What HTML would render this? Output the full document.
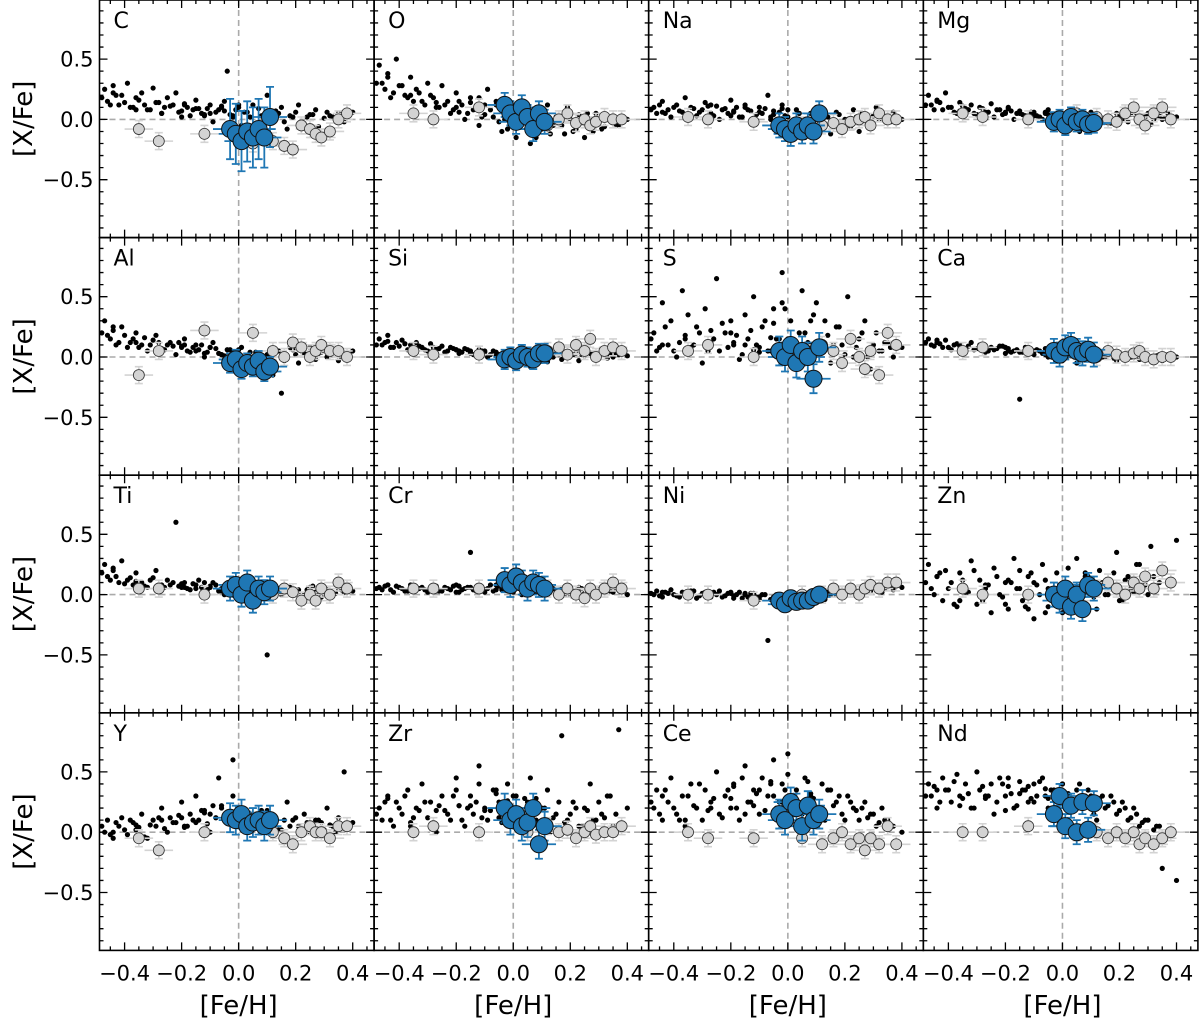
<!DOCTYPE html>
<html><head><meta charset="utf-8"><style>
html,body{margin:0;padding:0;background:#fff;}
svg text{font-family:"DejaVu Sans","Liberation Sans",sans-serif;}
</style></head><body>
<svg id="chart" width="1200" height="1021" viewBox="0 0 1200 1021" xmlns="http://www.w3.org/2000/svg"></svg>
<script>
const elements = ["C","O","Na","Mg","Al","Si","S","Ca","Ti","Cr","Ni","Zn","Y","Zr","Ce","Nd"];
const xTicks = [-0.4,-0.2,0.0,0.2,0.4];
const xTickLabels = ["\u22120.4","\u22120.2","0.0","0.2","0.4"];
const yTicks = [0.5,0.0,-0.5];
const yTickLabels = ["0.5","0.0","\u22120.5"];
const fieldFeh = [-0.47,-0.46,-0.44,-0.42,-0.41,-0.39,-0.37,-0.36,-0.34,-0.32,-0.30,-0.29,-0.27,-0.25,-0.24,-0.22,-0.20,-0.19,-0.17,-0.15,-0.14,-0.12,-0.10,-0.09,-0.07,-0.05,-0.04,-0.02,0.00,0.01,0.03,0.05,0.06,0.08,0.10,0.12,0.13,0.15,0.17,0.19,0.21,0.23,0.25,0.27,0.29,0.31,0.33,0.35,0.37,0.40];
const fieldC = [0.25,0.15,0.28,0.12,0.20,0.30,0.10,0.18,0.22,0.08,0.26,0.14,0.05,0.18,0.11,0.22,0.07,0.13,0.03,0.16,0.09,0.04,0.12,-0.02,0.08,0.15,0.40,0.02,0.10,-0.05,0.06,0.12,-0.10,0.03,0.20,-0.15,0.07,0.10,-0.08,0.02,0.12,-0.05,0.04,0.08,-0.12,0.06,0.02,0.05,-0.02,0.06];
const fieldO = [0.45,0.30,0.38,0.22,0.50,0.28,0.18,0.35,0.25,0.15,0.30,0.20,0.10,0.28,0.12,0.05,0.22,0.15,0.00,0.18,0.08,-0.05,0.12,0.25,0.02,0.10,-0.10,0.15,0.05,-0.15,0.00,0.08,-0.20,0.05,-0.08,0.12,-0.12,0.02,-0.05,0.10,-0.10,0.04,-0.15,0.00,0.05,-0.08,0.02,0.03,-0.05,0.00];
const fieldNa = [0.10,0.05,0.15,0.08,0.02,0.12,0.06,0.18,0.10,0.03,0.08,0.14,0.05,0.11,0.00,0.09,0.16,0.06,0.02,0.12,0.08,-0.02,0.10,0.05,0.20,0.07,-0.05,0.12,0.02,-0.10,0.08,0.00,-0.15,0.05,0.10,-0.08,0.02,-0.12,0.06,-0.05,0.00,0.08,-0.10,0.04,-0.05,0.10,0.02,-0.02,0.06,0.00];
const fieldMg = [0.20,0.12,0.15,0.08,0.22,0.10,0.05,0.14,0.09,0.12,0.04,0.10,0.06,0.13,0.02,0.08,0.05,0.10,0.00,0.07,0.04,-0.02,0.06,0.03,0.00,0.08,-0.05,0.04,0.02,-0.08,0.05,0.00,-0.10,0.03,0.06,-0.05,0.02,0.00,-0.03,0.05,0.01,-0.02,0.04,0.00,0.02,-0.04,0.03,0.00,0.05,0.02];
const fieldAl = [0.30,0.18,0.22,0.12,0.25,0.08,0.15,0.20,0.10,0.05,0.14,0.18,0.06,0.10,0.12,0.02,0.08,0.15,0.04,0.10,0.06,0.00,0.08,0.12,0.03,-0.02,0.06,0.02,-0.05,0.08,0.00,-0.10,0.04,-0.08,0.02,-0.15,0.05,-0.30,0.00,0.06,-0.05,0.03,0.08,-0.02,0.04,0.00,0.06,-0.03,0.02,0.05];
const fieldSi = [0.15,0.10,0.18,0.08,0.12,0.14,0.06,0.10,0.12,0.08,0.05,0.11,0.07,0.09,0.04,0.08,0.06,0.03,0.07,0.05,0.02,0.06,0.04,0.00,0.05,0.02,-0.02,0.04,0.01,-0.05,0.03,0.00,-0.08,0.02,0.04,-0.04,0.01,0.03,-0.02,0.00,0.02,-0.03,0.01,0.03,0.00,0.02,-0.01,0.00,0.02,0.01];
const fieldS = [0.20,0.05,0.45,0.10,0.30,0.00,0.55,0.15,0.08,0.25,-0.05,0.40,0.12,0.65,0.05,0.20,0.30,0.10,-0.02,0.35,0.15,0.50,0.08,0.25,0.05,0.40,0.15,0.70,0.10,0.30,0.00,0.55,0.20,0.10,0.45,0.05,0.30,-0.05,0.25,0.10,0.50,0.00,0.15,0.30,-0.10,0.20,0.05,0.12,0.00,0.08];
const fieldCa = [0.15,0.10,0.12,0.08,0.14,0.06,0.11,0.09,0.05,0.12,0.07,0.10,0.04,0.08,0.06,0.09,0.03,0.07,0.05,-0.35,0.04,0.08,0.02,0.06,0.03,0.00,0.05,0.02,-0.03,0.04,0.01,-0.05,0.03,0.00,0.05,-0.02,0.02,0.00,0.04,-0.03,0.01,0.03,0.00,-0.02,0.02,0.00,0.01,-0.03,0.02,0.00];
const fieldTi = [0.25,0.15,0.20,0.10,0.28,0.12,0.08,0.18,0.10,0.06,0.14,0.20,0.05,0.12,0.08,0.60,0.06,0.10,0.04,0.08,0.12,0.02,0.06,0.10,0.03,0.00,0.08,0.05,-0.02,0.06,0.02,-0.05,0.04,0.10,-0.50,0.03,0.06,0.00,0.05,0.02,0.04,0.00,0.06,0.02,-0.02,0.04,0.00,0.05,0.02,0.03];
const fieldCr = [0.06,0.04,0.08,0.02,0.07,0.05,0.03,0.08,0.04,0.06,0.02,0.05,0.07,0.03,0.06,0.04,0.08,0.02,0.05,0.35,0.04,0.06,0.02,0.05,0.03,0.07,0.04,0.10,0.02,0.06,0.00,0.08,0.04,0.02,0.06,0.00,0.04,0.02,0.05,0.00,0.03,0.06,0.01,0.04,0.00,0.03,0.05,0.02,0.04,0.00];
const fieldNi = [0.00,0.03,-0.02,0.01,0.04,-0.01,0.02,0.00,0.03,-0.03,0.01,0.02,-0.02,0.00,0.03,-0.01,0.01,-0.03,0.02,0.00,-0.02,0.01,-0.04,0.00,-0.38,-0.02,0.00,-0.05,-0.02,0.01,-0.06,-0.03,0.00,-0.05,-0.02,0.02,-0.04,0.00,0.03,-0.02,0.05,0.02,0.00,0.06,0.03,0.05,0.02,0.08,0.04,0.06];
const fieldZn = [0.25,0.05,0.15,-0.05,0.20,0.10,-0.10,0.18,0.02,0.28,-0.08,0.12,0.05,-0.15,0.22,0.00,0.10,-0.12,0.30,0.05,-0.05,0.15,-0.20,0.08,0.25,-0.10,0.02,0.18,-0.15,0.10,0.00,0.30,-0.08,0.15,0.05,-0.12,0.20,0.00,0.10,0.35,-0.05,0.15,0.02,0.25,0.08,0.40,0.05,0.20,0.10,0.45];
const fieldY = [0.00,0.10,-0.05,0.05,0.12,-0.02,0.08,0.02,0.15,-0.05,0.10,0.05,0.20,0.00,0.12,0.08,0.25,0.05,0.15,0.30,0.10,0.18,0.00,0.22,0.45,0.10,0.15,0.60,0.08,0.20,0.05,0.15,0.10,0.00,0.18,0.08,0.12,0.02,0.25,0.10,0.05,0.15,0.00,0.10,0.08,0.20,0.05,0.12,0.50,0.08];
const fieldZr = [0.20,0.10,0.30,0.05,0.25,0.15,0.35,0.08,0.20,0.40,0.12,0.25,0.00,0.30,0.18,0.10,0.45,0.22,0.05,0.30,0.15,0.55,0.20,0.10,0.35,0.25,0.08,0.40,0.15,0.30,0.05,0.25,0.45,0.10,0.20,0.35,0.00,0.15,0.80,0.10,0.25,0.05,0.20,0.40,0.10,0.15,0.30,0.05,0.85,0.20];
const fieldCe = [0.20,0.35,0.10,0.25,0.45,0.15,0.30,0.05,0.40,0.20,0.10,0.35,0.25,0.50,0.15,0.30,0.20,0.40,0.10,0.55,0.25,0.35,0.15,0.45,0.30,0.60,0.20,0.40,0.65,0.25,0.35,0.15,0.45,0.30,0.20,0.40,0.10,0.35,0.25,0.15,0.30,0.20,0.10,0.25,0.15,0.05,0.20,0.10,0.05,0.00];
const fieldNd = [0.40,0.30,0.20,0.45,0.35,0.25,0.48,0.30,0.40,0.20,0.50,0.35,0.28,0.40,0.15,0.45,0.30,0.38,0.20,0.42,0.35,0.25,0.40,0.30,0.45,0.20,0.35,0.28,0.40,0.30,0.22,0.35,0.40,0.25,0.30,0.10,0.28,0.20,0.30,0.15,0.25,0.10,0.20,0.05,0.10,-0.10,0.05,-0.30,0.00,-0.40];
const fieldY_all = [fieldC,fieldO,fieldNa,fieldMg,fieldAl,fieldSi,fieldS,fieldCa,fieldTi,fieldCr,fieldNi,fieldZn,fieldY,fieldZr,fieldCe,fieldNd];
const fieldFeh2 = [-0.48,-0.45,-0.43,-0.40,-0.38,-0.35,-0.33,-0.31,-0.28,-0.26,-0.23,-0.21,-0.18,-0.16,-0.13,-0.11,-0.08,-0.06,-0.03,-0.01,0.02,0.04,0.07,0.09,0.11,0.14,0.16,0.18,0.20,0.22,0.24,0.26,0.28,0.30,0.32,0.34,0.36,-0.44,-0.36,-0.27,-0.19,-0.12,-0.05,0.00,-0.20,-0.15,-0.10,-0.06,-0.02,0.08];
const field2Vals = [
 [0.18,0.12,0.20,0.14,0.10,0.16,0.12,0.08,0.14,0.10,0.12,0.06,0.10,0.08,0.05,0.09,0.06,0.10,0.04,0.08,0.06,0.02,0.09,0.04,0.00,0.05,-0.02,0.03,0.06,-0.04,0.02,0.04,-0.06,0.01,0.03,0.00,0.04,0.22,0.08,0.05,0.12,0.03,0.07,0.12,0.02,0.09,0.05,0.11,0.03,-0.08],
 [0.30,0.25,0.18,0.28,0.20,0.15,0.22,0.12,0.18,0.10,0.15,0.08,0.12,0.05,0.10,0.02,0.08,0.12,0.00,0.05,-0.05,0.10,0.00,-0.10,0.03,-0.05,0.02,-0.12,0.00,-0.08,-0.03,0.05,-0.10,-0.02,-0.06,0.00,-0.04,0.35,0.20,0.14,0.06,0.18,-0.02,0.08,0.10,0.14,0.04,0.15,-0.08,-0.15],
 [0.08,0.12,0.05,0.10,0.07,0.04,0.09,0.06,0.11,0.03,0.08,0.05,0.10,0.02,0.07,0.04,0.09,0.00,0.06,0.03,-0.02,0.05,0.00,0.04,-0.05,0.02,-0.03,0.04,0.00,-0.06,0.02,0.05,-0.02,0.03,0.00,0.02,-0.02,0.06,0.02,0.12,0.07,0.01,0.04,0.08,0.03,0.10,0.06,0.02,0.09,-0.08],
 [0.12,0.08,0.14,0.10,0.06,0.11,0.08,0.05,0.09,0.06,0.08,0.04,0.07,0.05,0.03,0.06,0.02,0.05,0.01,0.04,0.00,0.03,-0.02,0.02,-0.03,0.01,0.03,-0.02,0.02,0.00,0.04,-0.01,0.02,0.05,0.00,0.03,0.01,0.16,0.07,0.03,0.09,0.02,0.04,0.00,0.06,0.05,0.03,0.06,0.01,-0.06],
 [0.20,0.15,0.10,0.18,0.12,0.08,0.16,0.10,0.12,0.06,0.09,0.12,0.05,0.08,0.10,0.04,0.07,0.02,0.06,0.03,-0.02,0.04,0.00,-0.05,0.02,0.05,-0.03,0.08,0.02,0.05,0.00,0.06,0.03,0.08,0.02,0.05,0.00,0.25,0.12,0.07,0.10,0.03,0.01,0.06,0.09,0.05,0.08,0.02,0.04,-0.12],
 [0.10,0.12,0.08,0.09,0.11,0.07,0.09,0.06,0.08,0.07,0.05,0.07,0.04,0.06,0.03,0.05,0.02,0.04,0.01,0.03,0.00,0.02,-0.01,0.01,0.03,0.00,0.02,0.04,0.01,0.03,0.02,0.05,0.03,0.01,0.04,0.02,0.03,0.13,0.06,0.07,0.05,0.04,0.02,0.03,0.06,0.03,0.05,0.01,0.04,-0.03],
 [0.15,0.08,0.25,0.05,0.12,0.35,0.10,0.20,0.05,0.15,0.28,0.08,0.18,0.02,0.22,0.10,0.30,0.05,0.15,0.40,0.08,0.20,0.12,0.35,0.05,0.18,0.10,0.25,0.02,0.15,0.08,0.20,0.00,0.10,0.05,0.12,0.08,0.10,0.18,0.22,0.12,0.06,0.28,0.15,0.20,0.10,0.04,0.16,0.45,0.30],
 [0.12,0.09,0.11,0.08,0.10,0.07,0.09,0.06,0.08,0.05,0.07,0.09,0.04,0.06,0.08,0.03,0.05,0.02,0.04,0.06,0.01,0.03,0.00,0.02,0.04,0.00,0.02,-0.01,0.03,0.01,0.00,0.02,0.04,0.01,0.00,0.02,-0.01,0.14,0.10,0.07,0.05,0.06,0.03,0.02,0.08,0.04,0.05,0.07,0.03,0.00],
 [0.18,0.12,0.15,0.09,0.14,0.10,0.07,0.12,0.08,0.06,0.10,0.07,0.05,0.09,0.06,0.04,0.08,0.05,0.03,0.07,0.02,0.05,0.08,0.03,0.00,0.05,0.02,0.06,0.03,0.00,0.04,0.07,0.02,0.05,0.03,0.01,0.04,0.22,0.11,0.08,0.06,0.10,0.04,0.06,0.09,0.05,0.07,0.03,0.08,-0.02],
 [0.05,0.07,0.04,0.06,0.03,0.07,0.05,0.04,0.06,0.03,0.05,0.07,0.04,0.06,0.03,0.05,0.08,0.04,0.06,0.09,0.05,0.03,0.07,0.04,0.02,0.05,0.03,0.01,0.04,0.02,0.05,0.03,0.01,0.04,0.02,0.03,0.05,0.08,0.06,0.03,0.07,0.04,0.10,0.05,0.02,0.06,0.04,0.08,0.11,0.06],
 [0.01,-0.01,0.02,0.00,-0.02,0.01,0.03,-0.01,0.00,0.02,-0.02,0.01,0.00,-0.03,0.01,-0.02,0.00,-0.04,-0.01,-0.03,-0.05,-0.02,0.00,-0.04,-0.01,0.02,0.00,0.03,0.01,0.04,0.02,0.05,0.03,0.06,0.04,0.05,0.07,0.02,0.00,0.01,-0.01,0.00,-0.03,-0.05,0.02,0.01,-0.02,-0.04,-0.06,-0.07],
 [0.10,0.00,0.18,0.05,-0.08,0.12,0.02,0.20,-0.05,0.08,0.15,-0.02,0.10,0.05,-0.10,0.18,0.00,0.12,-0.05,0.08,0.22,-0.08,0.05,0.15,-0.02,0.10,0.00,0.18,-0.05,0.12,0.05,0.25,0.08,0.00,0.15,0.10,0.20,0.15,-0.05,0.08,0.12,-0.12,0.05,0.02,-0.08,0.20,0.10,-0.15,0.03,0.18],
 [0.05,-0.02,0.08,0.02,0.10,0.04,-0.04,0.06,0.12,0.03,0.08,0.14,0.05,0.10,0.18,0.07,0.12,0.20,0.08,0.15,0.10,0.05,0.12,0.08,0.15,0.02,0.10,0.05,0.12,0.00,0.08,0.04,0.10,0.02,0.06,0.00,0.05,0.00,0.06,0.10,0.04,0.16,0.12,0.20,0.12,0.08,0.15,0.22,0.30,0.18],
 [0.15,0.25,0.10,0.20,0.30,0.12,0.18,0.25,0.08,0.22,0.15,0.30,0.10,0.20,0.25,0.12,0.18,0.35,0.15,0.22,0.10,0.28,0.15,0.05,0.20,0.12,0.25,0.08,0.15,0.20,0.05,0.18,0.10,0.25,0.12,0.30,0.15,0.28,0.05,0.18,0.22,0.40,0.12,0.30,0.35,0.22,0.18,0.32,0.26,0.28],
 [0.25,0.15,0.35,0.20,0.10,0.30,0.22,0.40,0.18,0.28,0.12,0.35,0.20,0.45,0.25,0.32,0.18,0.40,0.25,0.35,0.30,0.20,0.42,0.28,0.15,0.35,0.22,0.30,0.10,0.25,0.18,0.20,0.12,0.15,0.08,0.10,0.05,0.30,0.10,0.20,0.38,0.22,0.30,0.48,0.28,0.15,0.35,0.42,0.25,0.32],
 [0.30,0.38,0.25,0.35,0.42,0.28,0.32,0.20,0.38,0.30,0.25,0.40,0.32,0.22,0.35,0.28,0.42,0.30,0.35,0.25,0.32,0.20,0.28,0.35,0.15,0.30,0.22,0.25,0.18,0.20,0.12,0.15,0.08,0.10,0.02,0.05,-0.05,0.35,0.22,0.30,0.45,0.38,0.28,0.40,0.18,0.32,0.25,0.36,0.30,0.30]
];
const grayFeh = [-0.35,-0.28,-0.12,0.05,0.12,0.16,0.19,0.22,0.25,0.27,0.29,0.32,0.35,0.38];
const grayVals = [
 [-0.08,-0.18,-0.12,-0.20,-0.18,-0.22,-0.25,-0.05,-0.08,-0.12,-0.15,-0.10,0.00,0.05],
 [0.05,0.00,0.10,0.05,-0.05,0.00,0.05,-0.03,0.00,-0.05,-0.02,0.02,0.00,0.00],
 [0.02,0.00,-0.02,-0.05,-0.05,-0.03,-0.08,-0.02,0.00,0.02,-0.05,0.05,0.00,0.00],
 [0.05,0.02,0.00,0.05,0.02,0.00,-0.02,0.05,0.10,0.00,-0.05,0.05,0.10,0.00],
 [-0.15,0.05,0.22,0.20,0.05,0.00,0.12,0.08,0.00,0.05,0.10,0.05,0.05,0.00],
 [0.05,0.02,0.02,0.00,0.05,0.08,0.02,0.10,0.05,0.15,0.00,0.05,0.08,0.05],
 [0.05,0.10,0.00,0.05,0.10,0.05,-0.05,0.15,0.00,-0.10,0.05,-0.15,0.20,0.10],
 [0.05,0.08,0.05,0.05,0.00,0.05,0.02,0.00,0.03,0.05,0.00,-0.02,0.00,0.00],
 [0.05,0.05,0.00,0.05,0.00,0.05,0.02,-0.05,0.00,-0.05,0.05,0.00,0.10,0.05],
 [0.05,0.05,0.05,0.05,0.05,0.00,0.05,0.00,-0.03,0.05,0.00,0.05,0.10,0.05],
 [0.00,0.00,-0.05,0.00,0.00,0.05,0.00,0.05,0.00,0.05,0.08,0.05,0.10,0.10],
 [0.05,0.00,0.00,-0.05,0.05,0.10,0.05,0.00,0.10,0.05,0.15,0.05,0.20,0.10],
 [-0.05,-0.15,0.00,0.10,0.00,-0.05,-0.10,0.00,0.05,0.00,0.00,-0.05,0.05,0.05],
 [0.00,0.05,0.00,0.00,0.05,0.00,0.02,-0.05,0.00,0.05,-0.02,0.00,0.00,0.05],
 [0.00,-0.05,-0.05,-0.05,-0.10,-0.05,0.00,-0.10,-0.05,-0.15,-0.05,-0.10,0.05,-0.10],
 [0.00,0.00,0.05,0.00,0.00,-0.05,0.00,-0.05,0.00,-0.10,-0.05,-0.10,-0.05,0.00]
];
const clusterFeh = [-0.03,-0.01,0.01,0.03,0.05,0.07,0.09,0.11];
const clusterVals = [
 [-0.08,-0.12,-0.18,-0.10,-0.15,-0.08,-0.15,0.02],
 [0.12,0.05,-0.02,0.10,0.02,-0.08,0.05,-0.02],
 [-0.05,-0.08,-0.12,-0.05,-0.10,-0.05,-0.10,0.05],
 [-0.02,0.00,-0.05,0.02,-0.02,0.00,-0.04,-0.03],
 [-0.05,-0.02,-0.10,-0.05,-0.08,-0.03,-0.12,-0.08],
 [-0.02,0.00,-0.03,0.02,0.00,-0.02,0.03,0.03],
 [0.05,0.00,0.10,-0.05,0.05,0.00,-0.18,0.08],
 [0.05,0.02,0.08,0.10,0.05,0.03,0.06,0.02],
 [0.05,0.08,0.00,0.10,-0.05,0.05,0.02,0.05],
 [0.12,0.08,0.15,0.10,0.05,0.10,0.08,0.05],
 [-0.05,-0.08,-0.03,-0.06,-0.05,-0.05,-0.02,0.00],
 [0.00,-0.05,0.05,-0.10,0.00,-0.12,0.08,0.05],
 [0.12,0.10,0.15,0.05,0.08,0.10,0.05,0.10],
 [0.20,0.10,0.15,0.05,0.08,0.20,-0.10,0.05],
 [0.15,0.10,0.25,0.20,0.05,0.22,0.10,0.15],
 [0.15,0.30,0.05,0.22,0.00,0.25,0.02,0.24]
];
const clusterYErr = [0.25,0.1,0.1,0.08,0.08,0.08,0.12,0.1,0.1,0.1,0.06,0.1,0.12,0.12,0.12,0.1];

const NS="http://www.w3.org/2000/svg";
const svg=document.getElementById('chart');
const X0=99.5, PW=274.6, PH=237.6;
const XMIN=-0.488, XMAX=0.475, YMIN=-0.98, YMAX=0.99;
function mk(tag,attrs,parent){const e=document.createElementNS(NS,tag);for(const k in attrs)e.setAttribute(k,attrs[k]);(parent||svg).appendChild(e);return e;}
function sx(c,v){return X0+c*PW+(v-XMIN)/(XMAX-XMIN)*PW;}
function sy(r,v){return r*PH+(YMAX-v)/(YMAX-YMIN)*PH;}

for(let i=0;i<16;i++){
  const c=i%4, r=Math.floor(i/4);
  const g=mk('g',{});
  
  
  const px=X0+c*PW, py=r*PH;
  const clip=mk('clipPath',{id:'cp'+i},g);
  mk('rect',{x:px,y:py,width:PW,height:PH},clip);
  const inner=mk('g',{'clip-path':'url(#cp'+i+')'},g);
  const vl=mk('line',{x1:sx(c,0),x2:sx(c,0),y1:py,y2:py+PH,stroke:'#aaa','stroke-width':1.6,'stroke-dasharray':'6,4'},inner);
  
  
  const hl=mk('line',{x1:px,x2:px+PW,y1:sy(r,0),y2:sy(r,0),stroke:'#aaa','stroke-width':1.6,'stroke-dasharray':'6,4'},inner);
  
  
  // field stars (two samples)
  const fv=fieldY_all[i];
  for(let k=0;k<fieldFeh.length;k++){
    const d=mk('circle',{cx:sx(c,fieldFeh[k]),cy:sy(r,fv[k]),r:2.6,fill:'#000'},inner);
    
    
  }
  const fv2=field2Vals[i];
  for(let k=0;k<fieldFeh2.length;k++){
    const d=mk('circle',{cx:sx(c,fieldFeh2[k]),cy:sy(r,fv2[k]),r:2.6,fill:'#000'},inner);
    
    
  }
  const gv=grayVals[i];
  for(let k=0;k<grayFeh.length;k++){
    const x=sx(c,grayFeh[k]), y=sy(r,gv[k]);
    const eb=mk('path',{d:`M${sx(c,grayFeh[k]-0.05)},${y}H${sx(c,grayFeh[k]+0.05)}M${x},${sy(r,gv[k]+0.07)}V${sy(r,gv[k]-0.07)}M${x-4},${sy(r,gv[k]+0.07)}h8M${x-4},${sy(r,gv[k]-0.07)}h8`,stroke:'#d3d3d3','stroke-width':1.6,fill:'none'},inner);
    
    
  }
  for(let k=0;k<grayFeh.length;k++){
    const d=mk('circle',{cx:sx(c,grayFeh[k]),cy:sy(r,gv[k]),r:5.5,fill:'#d3d3d3',stroke:'#333','stroke-width':0.8},inner);
    
    
  }
  const bv=clusterVals[i], e=clusterYErr[i];
  for(let k=0;k<clusterFeh.length;k++){
    const x=sx(c,clusterFeh[k]), y=sy(r,bv[k]);
    const eb=mk('path',{d:`M${sx(c,clusterFeh[k]-0.06)},${y}H${sx(c,clusterFeh[k]+0.06)}M${x},${sy(r,bv[k]+e)}V${sy(r,bv[k]-e)}M${x-4},${sy(r,bv[k]+e)}h8M${x-4},${sy(r,bv[k]-e)}h8`,stroke:'#1f77b4','stroke-width':1.8,fill:'none'},inner);
    
    
  }
  for(let k=0;k<clusterFeh.length;k++){
    const d=mk('circle',{cx:sx(c,clusterFeh[k]),cy:sy(r,bv[k]),r:8.5,fill:'#1f77b4',stroke:'#111','stroke-width':1},inner);
    
    
  }
  const fr=mk('rect',{x:px,y:py,width:PW,height:PH,fill:'none',stroke:'#000','stroke-width':1.6},g);
  
  
  let dpath='';
  for(let t=-45;t<=45;t+=5){const v=t/100;if(v<XMIN||v>XMAX)continue;const x=sx(c,v);const L=(t%20===0)?8:4;dpath+=`M${x},${py+PH}v${-L}M${x},${py}v${L}`;}
  for(let t=-90;t<=90;t+=10){const v=t/100;const y=sy(r,v);const L=(t%50===0)?8:4;dpath+=`M${px},${y}h${L}M${px+PW},${y}h${-L}`;}
  const tk=mk('path',{d:dpath,stroke:'#000','stroke-width':1.3,fill:'none'},g);
  
  
  const lab=mk('text',{x:px+14,y:py+28,'font-size':22,fill:'#000'},g);
  lab.textContent=elements[i];
  
  
  if(c===0){
    yTicks.forEach((v,j)=>{
      const t=mk('text',{x:px-6,y:sy(r,v)+7.5,'font-size':21,'text-anchor':'end'},g);
      t.textContent=yTickLabels[j];
      
      
    });
    const yl=mk('text',{x:0,y:0,'font-size':26,'text-anchor':'middle',transform:`translate(32,${py+PH/2}) rotate(-90)`},g);
    yl.textContent='[X/Fe]';
    
    
  }
  if(r===3){
    xTicks.forEach((v,j)=>{
      const t=mk('text',{x:sx(c,v),y:py+PH+30,'font-size':21,'text-anchor':'middle'},g);
      t.textContent=xTickLabels[j];
      
      
    });
    const xl=mk('text',{x:sx(c,0),y:1014,'font-size':26,'text-anchor':'middle'},g);
    xl.textContent='[Fe/H]';
    
    
  }
}
</script>
</body></html>
